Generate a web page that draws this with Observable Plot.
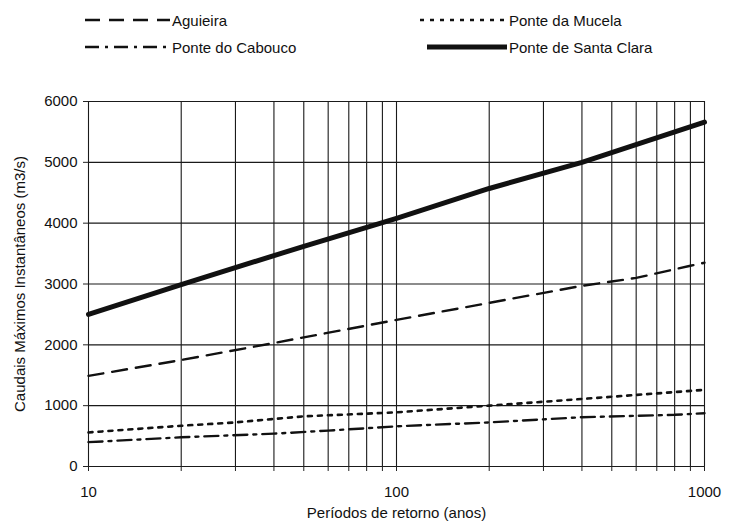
<!DOCTYPE html>
<html><head><meta charset="utf-8">
<script src="https://cdn.jsdelivr.net/npm/d3@7"></script>
<script src="https://cdn.jsdelivr.net/npm/@observablehq/plot@0.6"></script>
<style>
body{margin:0;background:#fff;font-family:"Liberation Sans",Arial,sans-serif;}
#legend{position:relative;width:738px;height:65px;}
.item{position:absolute;display:flex;align-items:center;font-size:15px;color:#111;}
.item svg{display:block;margin-right:2px;}
</style></head>
<body>
<div id="legend"></div>
<div id="chart"></div>
<script>
const seriesNames = ["Aguieira","Ponte da Mucela","Ponte do Cabouco","Ponte de Santa Clara"];
const aguieiraT = [10,20,40,100,200,400,600,900,1000];
const aguieiraQ = [1490,1750,2030,2410,2690,2970,3100,3300,3350];
const mucelaT = [10,20,30,50,100,200,400,1000];
const mucelaQ = [560,670,725,825,890,1000,1110,1260];
const caboucoT = [10,20,40,60,100,200,400,800,1000];
const caboucoQ = [400,480,540,590,660,725,810,850,875];
const santaClaraT = [10,20,50,100,200,400,1000];
const santaClaraQ = [2500,2990,3620,4080,4570,5000,5660];
const gridX = [10,20,30,40,50,60,70,80,90,100,200,300,400,500,600,700,800,900,1000];
const gridY = [0,1000,2000,3000,4000,5000,6000];
const labeledX = [10,100,1000];

const styles = {
  "Aguieira": {dash:"15,9", w:2.4},
  "Ponte da Mucela": {dash:"4,6", w:2.6},
  "Ponte do Cabouco": {dash:"14,6,3,6", w:2.4},
  "Ponte de Santa Clara": {dash:null, w:5}
};
const toRows = (T,Q) => T.map((t,i)=>({t, q:Q[i]}));
const data = {
  "Aguieira": toRows(aguieiraT, aguieiraQ),
  "Ponte da Mucela": toRows(mucelaT, mucelaQ),
  "Ponte do Cabouco": toRows(caboucoT, caboucoQ),
  "Ponte de Santa Clara": toRows(santaClaraT, santaClaraQ)
};

// legend
const legPos = [[85,20,85],[420,20,87],[85,47,85],[427,47,80]];
const leg = document.getElementById("legend");
seriesNames.forEach((n,i)=>{
  const [x,y,w] = legPos[i];
  const s = styles[n];
  const div = document.createElement("div");
  div.className="item";
  div.style.left = x+"px"; div.style.top = (y-10)+"px"; div.style.height="20px";
  div.innerHTML = `<svg width="${w}" height="20"><line x1="0" x2="${w}" y1="10" y2="10" stroke="#111" stroke-width="${s.w}" ${s.dash?`stroke-dasharray="${s.dash}"`:""}/></svg><span>${n}</span>`;
  leg.appendChild(div);
});

const lineMarks = seriesNames.map(n => Plot.line(data[n], {x:"t", y:"q", stroke:"#111", strokeWidth:styles[n].w, strokeDasharray:styles[n].dash ?? undefined, curve:"linear"}));

const chart = Plot.plot({
  width: 738, height: 458,
  marginLeft: 88, marginRight: 34, marginTop: 36, marginBottom: 57,
  style: {fontFamily:'"Liberation Sans", Arial, sans-serif', fontSize:"15px", color:"#111", background:"#fff"},
  x: {type:"log", domain:[10,1000]},
  y: {domain:[0,6000]},
  marks: [
    Plot.ruleX(gridX, {y1:0, y2:6000, stroke:"#1a1a1a", strokeWidth:1.1}),
    Plot.ruleY(gridY, {stroke:"#1a1a1a", strokeWidth:1.1}),
    Plot.axisX({ticks:gridX, tickFormat:d => labeledX.includes(d) ? String(d) : "", tickSize:5, tickPadding:15, label:"Períodos de retorno (anos)", labelAnchor:"center", labelArrow:"none", labelOffset:51, stroke:"#222"}),
    Plot.axisY({ticks:gridY, tickFormat:d=>String(d), tickSize:5, tickPadding:6, label:"Caudais Máximos Instantâneos (m3/s)", labelAnchor:"center", labelArrow:"none", labelOffset:74, stroke:"#222"}),
    ...lineMarks
  ]
});
document.getElementById("chart").appendChild(chart);
</script>
</body></html>
